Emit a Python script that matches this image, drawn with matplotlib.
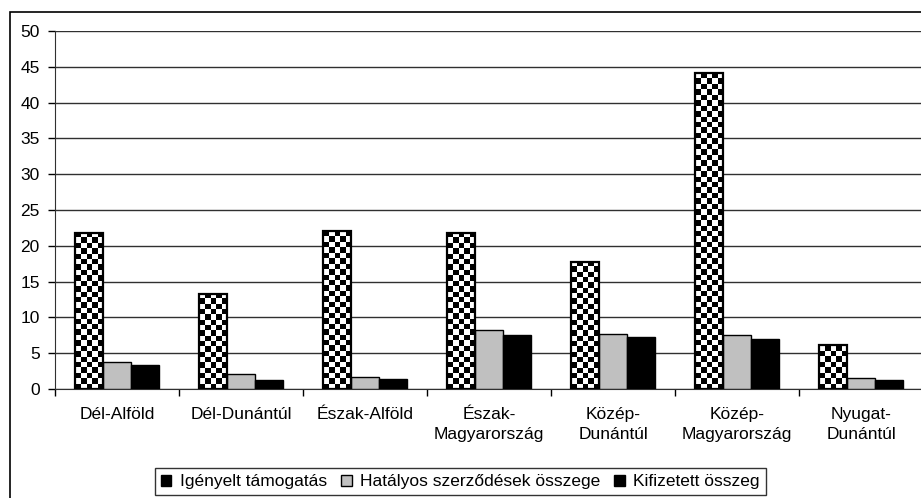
import numpy as np
import matplotlib
matplotlib.use('Agg')
import matplotlib.pyplot as plt
from matplotlib.patches import Rectangle, Patch

plt.rcParams['font.family'] = ['Liberation Sans', 'DejaVu Sans']

regions = ['Dél-Alföld', 'Dél-Dunántúl', 'Észak-Alföld', 'Észak-\nMagyarország',
           'Közép-\nDunántúl', 'Közép-\nMagyarország', 'Nyugat-\nDunántúl']
igenyelt = [21.8, 13.3, 22.0, 21.8, 17.8, 44.1, 6.1]
hatalyos = [3.8, 2.1, 1.7, 8.2, 7.7, 7.5, 1.5]
kifizetett = [3.3, 1.2, 1.4, 7.5, 7.3, 7.0, 1.2]
series_names = ['Igényelt támogatás', 'Hatályos szerződések összege', 'Kifizetett összeg']

W, H = 921, 498
fig = plt.figure(figsize=(W / 100, H / 100), dpi=100)
# outer chart frame
fig.patches.append(Rectangle((10 / W, -0.1), 1.2, 1 - 12 / H + 0.1, transform=fig.transFigure,
                             fill=False, edgecolor='black', linewidth=1.2, zorder=0))
ax = fig.add_axes([55 / W, (H - 389) / H, 868 / W, 358 / H])

x = np.arange(len(regions))
bw = 0.226
bars1 = ax.bar(x - bw, igenyelt, bw, facecolor='none', edgecolor='black', linewidth=1.6, zorder=4)
ax.bar(x, hatalyos, bw, color='#c0c0c0', edgecolor='black', linewidth=1.0, zorder=3)
ax.bar(x + bw, kifizetett, bw, color='black', edgecolor='black', linewidth=1.0, zorder=3)

# checkerboard fill for the first series
px_per_unit = 358 / 50
sq = 5.4
for r in bars1:
    x0, w, h = r.get_x(), r.get_width(), r.get_height()
    ncol = 5
    nrow = max(1, int(round(h * px_per_unit / sq)))
    i, j = np.indices((nrow, ncol))
    board = (i + j) % 2
    ax.imshow(board, cmap='gray', interpolation='nearest', aspect='auto',
              extent=(x0, x0 + w, 0, h), origin='lower', zorder=3)
ax.set_xlim(-0.5, len(regions) - 0.5)
ax.set_ylim(0, 50)
ax.set_aspect('auto')

ax.set_yticks(np.arange(0, 51, 5))
ax.yaxis.grid(True, color='#303030', linewidth=1.0, zorder=0)
ax.set_axisbelow(True)
ax.tick_params(axis='y', direction='out', length=5, width=1, labelsize=12.5, pad=6, colors='black')

ax.set_xticks(np.arange(len(regions) + 1) - 0.5)
ax.set_xticklabels([])
ax.set_xticks(x, minor=True)
ax.set_xticklabels(regions, minor=True, fontsize=12.5, va='top', linespacing=1.45)
ax.tick_params(axis='x', which='major', direction='out', length=5, width=1)
ax.tick_params(axis='x', which='minor', length=0, pad=13)

for s in ['top', 'right']:
    ax.spines[s].set_visible(False)
ax.spines['left'].set_color('#303030')
ax.spines['bottom'].set_color('#303030')

handles = [Patch(facecolor='black', edgecolor='black', hatch='....'),
           Patch(facecolor='#c0c0c0', edgecolor='black'),
           Patch(facecolor='black', edgecolor='black')]
leg = fig.legend(handles, series_names, loc='lower center', bbox_to_anchor=(0.5, -0.012),
                 ncol=3, fontsize=12.5, frameon=True, fancybox=False, edgecolor='black',
                 handlelength=0.6, handleheight=0.6, handletextpad=0.5, columnspacing=0.8,
                 borderpad=0.35)
leg.get_frame().set_linewidth(1.0)

fig.savefig('out.png', dpi=100)
